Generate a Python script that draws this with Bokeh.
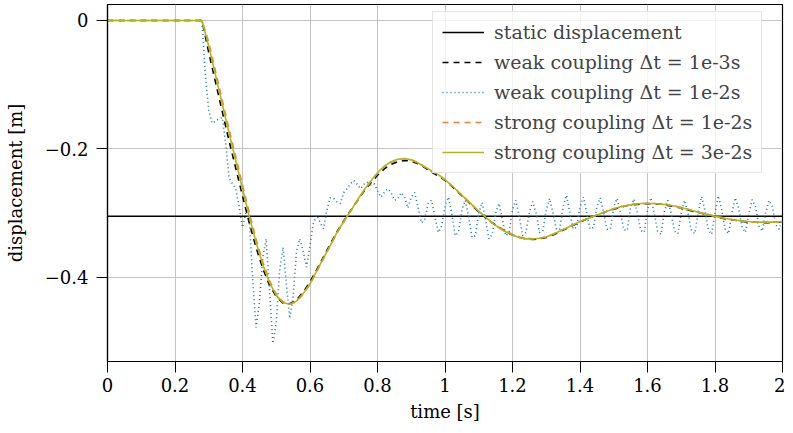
from bokeh.plotting import figure
from bokeh.models import FixedTicker, CustomJSTickFormatter, Legend, LegendItem
from bokeh.embed import file_html
from bokeh.resources import INLINE

# ---------------- data ----------------
x_ticks = [0, 0.2, 0.4, 0.6, 0.8, 1.0, 1.2, 1.4, 1.6, 1.8, 2.0]
y_ticks = [-0.4, -0.2, 0.0]

static_t = [0.0, 2.0]
static_u = [-0.305, -0.305]

# smooth responses, sampled at t = 0 and t = 0.28, 0.30, ..., 2.00
smooth_t = [0.0] + [round(0.28 + 0.02 * i, 2) for i in range(87)]

weak_1e3 = [0.0,
    0.0, -0.05, -0.096, -0.142, -0.187, -0.23, -0.273, -0.315, -0.353, -0.386,
    -0.412, -0.43, -0.44, -0.441, -0.435, -0.423, -0.407, -0.388, -0.368, -0.348,
    -0.329, -0.312, -0.296, -0.281, -0.266, -0.253, -0.241, -0.231, -0.224, -0.22,
    -0.218, -0.219, -0.223, -0.229, -0.236, -0.242, -0.249, -0.258, -0.268, -0.278,
    -0.288, -0.298, -0.307, -0.315, -0.322, -0.329, -0.334, -0.338, -0.34, -0.341,
    -0.34, -0.338, -0.334, -0.329, -0.324, -0.319, -0.314, -0.309, -0.305, -0.301,
    -0.297, -0.294, -0.291, -0.288, -0.287, -0.286, -0.285, -0.286, -0.286, -0.288,
    -0.29, -0.292, -0.295, -0.298, -0.3, -0.303, -0.305, -0.308, -0.31, -0.311,
    -0.313, -0.314, -0.314, -0.315, -0.315, -0.314, -0.314]

strong_1e2 = [0.0,
    0.0, -0.034, -0.079, -0.124, -0.169, -0.212, -0.256, -0.299, -0.34, -0.376,
    -0.405, -0.426, -0.438, -0.442, -0.438, -0.426, -0.411, -0.391, -0.371, -0.351,
    -0.331, -0.314, -0.297, -0.281, -0.265, -0.251, -0.238, -0.228, -0.221, -0.216,
    -0.215, -0.217, -0.221, -0.228, -0.235, -0.24, -0.248, -0.257, -0.267, -0.277,
    -0.287, -0.297, -0.306, -0.315, -0.322, -0.328, -0.333, -0.337, -0.339, -0.34,
    -0.339, -0.337, -0.333, -0.328, -0.323, -0.318, -0.313, -0.309, -0.305, -0.301,
    -0.297, -0.293, -0.29, -0.288, -0.286, -0.285, -0.285, -0.285, -0.286, -0.287,
    -0.289, -0.291, -0.294, -0.297, -0.3, -0.302, -0.305, -0.307, -0.309, -0.311,
    -0.312, -0.313, -0.314, -0.314, -0.314, -0.314, -0.313]

strong_3e2 = [0.0,
    0.0, -0.04, -0.085, -0.13, -0.175, -0.218, -0.262, -0.305, -0.345, -0.38,
    -0.408, -0.428, -0.439, -0.442, -0.437, -0.425, -0.41, -0.39, -0.37, -0.35,
    -0.33, -0.313, -0.297, -0.28, -0.264, -0.25, -0.237, -0.227, -0.22, -0.216,
    -0.215, -0.217, -0.222, -0.228, -0.234, -0.24, -0.248, -0.257, -0.267, -0.277,
    -0.287, -0.297, -0.306, -0.315, -0.323, -0.329, -0.334, -0.338, -0.34, -0.34,
    -0.339, -0.337, -0.333, -0.328, -0.323, -0.318, -0.313, -0.309, -0.305, -0.301,
    -0.297, -0.293, -0.29, -0.288, -0.286, -0.285, -0.285, -0.285, -0.286, -0.287,
    -0.289, -0.292, -0.294, -0.297, -0.3, -0.302, -0.305, -0.307, -0.309, -0.311,
    -0.312, -0.313, -0.314, -0.314, -0.314, -0.314, -0.313]

# weak coupling dt = 1e-2, sampled at t = 0 and t = 0.28, 0.29, ..., 2.00
weak_1e2 = [0.0,
    0.0, -0.085,
    -0.14, -0.16, -0.157, -0.153, -0.151, -0.19, -0.245, -0.254, -0.262, -0.29,
    -0.322, -0.30, -0.31, -0.40, -0.478, -0.44, -0.37, -0.34, -0.42, -0.503,
    -0.47, -0.39, -0.353, -0.41, -0.464, -0.43, -0.36, -0.34, -0.36, -0.384,
    -0.35, -0.315, -0.303, -0.315, -0.324, -0.295, -0.276, -0.277, -0.283, -0.285,
    -0.268, -0.262, -0.254, -0.249, -0.255, -0.262, -0.255, -0.252, -0.256, -0.254,
    -0.265, -0.275, -0.268, -0.262, -0.268, -0.28, -0.278, -0.268, -0.275, -0.292,
    -0.275, -0.268, -0.29, -0.315, -0.31, -0.285, -0.28, -0.305, -0.33, -0.32,
    -0.29, -0.275, -0.30, -0.335, -0.33, -0.295, -0.28, -0.305, -0.338, -0.335,
    -0.30, -0.283, -0.31, -0.34, -0.333, -0.30, -0.285, -0.31, -0.335, -0.33,
    -0.295, -0.28, -0.305, -0.335, -0.33, -0.298, -0.282, -0.30, -0.33, -0.328,
    -0.295, -0.277, -0.30, -0.325, -0.325, -0.29, -0.272, -0.30, -0.325, -0.322,
    -0.29, -0.275, -0.30, -0.325, -0.322, -0.29, -0.276, -0.30, -0.325, -0.325,
    -0.29, -0.277, -0.30, -0.326, -0.327, -0.29, -0.278, -0.30, -0.327, -0.33,
    -0.295, -0.276, -0.30, -0.328, -0.333, -0.298, -0.28, -0.30, -0.328, -0.332,
    -0.30, -0.28, -0.30, -0.327, -0.332, -0.30, -0.274, -0.295, -0.326, -0.333,
    -0.30, -0.273, -0.295, -0.325, -0.332, -0.30, -0.276, -0.292, -0.322, -0.33,
    -0.302, -0.279, -0.29, -0.32, -0.328, -0.30, -0.28, -0.29, -0.318, -0.325,
    -0.31]
weak_1e2_t = [0.0] + [round(0.28 + 0.01 * i, 2) for i in range(len(weak_1e2) - 1)]

labels = ["static displacement",
          "weak coupling \u0394t = 1e-3s",
          "weak coupling \u0394t = 1e-2s",
          "strong coupling \u0394t = 1e-2s",
          "strong coupling \u0394t = 3e-2s"]

# ---------------- figure ----------------
FONT = "DejaVu Serif"

p = figure(width=785, height=425, x_range=(0, 2), y_range=(-0.531, 0.0249),
           output_backend="svg", toolbar_location=None,
           min_border_left=107, min_border_right=3, min_border_top=4, min_border_bottom=64)
p.background_fill_color = "white"
p.border_fill_color = "white"
p.outline_line_color = "black"
p.outline_line_width = 1.2
p.outline_line_alpha = 1.0

r_static = p.line(static_t, static_u, line_color="black", line_width=1.5)
r_w3 = p.line(smooth_t, weak_1e3, line_color="black", line_width=1.6, line_dash="6 5")
r_w2 = p.line(weak_1e2_t, weak_1e2, line_color="#1f77b4", line_width=1.6, line_dash="1 3")
r_s2 = p.line(smooth_t, strong_1e2, line_color="#f0803c", line_width=1.6, line_dash="6 5")
r_s3 = p.line(smooth_t, strong_3e2, line_color="#b5b41c", line_width=1.6)

legend = Legend(items=[LegendItem(label=l, renderers=[r]) for l, r in
                       zip(labels, [r_static, r_w3, r_w2, r_s2, r_s3])],
                location=(325, 188))
legend.label_text_font = FONT
legend.label_text_font_size = "19px"
legend.glyph_width = 42
legend.glyph_height = 22
legend.label_height = 22
legend.label_standoff = 10
legend.spacing = 8
legend.padding = 9
legend.margin = 0
legend.border_line_color = "#cccccc"
legend.border_line_width = 1
legend.background_fill_alpha = 0.8
p.add_layout(legend)

p.xaxis.ticker = FixedTicker(ticks=x_ticks)
p.yaxis.ticker = FixedTicker(ticks=y_ticks)
p.xgrid.ticker = FixedTicker(ticks=x_ticks)
p.ygrid.ticker = FixedTicker(ticks=y_ticks)
p.xaxis.formatter = CustomJSTickFormatter(code="return (Math.round(tick*10)/10).toString();")
p.yaxis.formatter = CustomJSTickFormatter(
    code="const v = Math.round(tick*10)/10; return v < 0 ? '\u2212' + (-v).toString() : v.toString();")

for g in (p.xgrid, p.ygrid):
    g.grid_line_color = "#c4c4c4"
    g.grid_line_width = 1

for ax in (p.xaxis, p.yaxis):
    ax.axis_line_color = "black"
    ax.axis_line_width = 1.2
    ax.major_tick_line_color = "black"
    ax.major_tick_out = 11
    ax.major_tick_in = 0
    ax.minor_tick_line_color = None
    ax.major_label_text_font = FONT
    ax.major_label_text_font_size = "18px"
    ax.major_label_text_color = "black"
    ax.axis_label_text_font = FONT
    ax.axis_label_text_font_size = "18px"
    ax.axis_label_text_font_style = "normal"
    ax.axis_label_text_color = "black"

p.xaxis.axis_label = "time [s]"
p.yaxis.axis_label = "displacement [m]"
p.xaxis.major_label_standoff = 5
p.xaxis.axis_label_standoff = 6
p.yaxis.major_label_standoff = 8
p.yaxis.axis_label_standoff = 16

open("out.html", "w").write(file_html(p, INLINE))
